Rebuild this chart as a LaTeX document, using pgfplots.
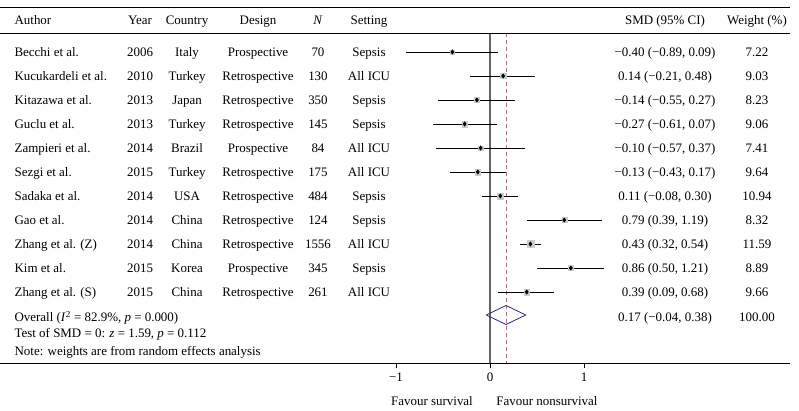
\documentclass[border=0pt]{standalone}
\usepackage{pgfplots}
\pgfplotsset{compat=1.18}
\usepackage{pgfplotstable}
\usepackage{fontspec}
\setmainfont{Liberation Serif}

\definecolor{boxgray}{RGB}{196,206,206}
\definecolor{dashcol}{RGB}{176,112,140}
\definecolor{diacol}{RGB}{40,40,140}
\definecolor{zerocol}{RGB}{100,100,100}

% y = row position (411 - pixel row), ms = box half side (0.3*weight)
\pgfplotstableread{
y   smd   lo    hi    w     ms
359 -0.40 -0.89 0.09  7.22  2.17
335  0.14 -0.21 0.48  9.03  2.71
311 -0.14 -0.55 0.27  8.23  2.47
287 -0.27 -0.61 0.07  9.06  2.72
263 -0.10 -0.57 0.37  7.41  2.22
239 -0.13 -0.43 0.17  9.64  2.89
215  0.11 -0.08 0.30 10.94  3.28
191  0.79  0.39 1.19  8.32  2.50
167  0.43  0.32 0.54 11.59  3.48
143  0.86  0.50 1.21  8.89  2.67
119  0.39  0.09 0.68  9.66  2.90
}\studies

\begin{document}
\begin{tikzpicture}[font=\fontsize{13}{15}\selectfont]
  \begin{axis}[
    scale only axis,
    width=790bp, height=355bp,
    xmin=-5.2128, xmax=3.1915,
    ymin=48, ymax=403,
    axis x line*=bottom,
    axis y line=none,
    x axis line style={line width=0.8pt, -},
    xtick={-1,0,1},
    xticklabels={−1,0,1},
    tick align=outside,
    major tick length=5bp,
    tick style={black, line width=0.6pt},
    xticklabel style={font=\fontsize{13}{15}\selectfont, yshift=-1bp},
    clip=false,
    ]

    % reference lines
    \addplot[zerocol, line width=1.1pt] coordinates {(0,378) (0,48)};
    \addplot[dashcol, line width=0.9pt, dash pattern=on 4pt off 3pt] coordinates {(0.17,378) (0.17,48)};

    % confidence intervals
    \addplot[only marks, mark=none,
      error bars/.cd, x dir=both, x explicit,
      error mark=none, error bar style={black, line width=0.8pt}]
      table[x=smd, y=y,
        x error plus expr=\thisrow{hi}-\thisrow{smd},
        x error minus expr=\thisrow{smd}-\thisrow{lo}] {\studies};

    % weight boxes
    \addplot[scatter, only marks, mark=square*,
      scatter/use mapped color={draw=boxgray, fill=boxgray},
      visualization depends on={\thisrow{ms} \as \msize},
      scatter/@pre marker code/.append style={/tikz/mark size=\msize}]
      table[x=smd, y=y] {\studies};

    % point estimates
    \addplot[only marks, mark=diamond*, mark size=2.2, black]
      table[x=smd, y=y] {\studies};

    % overall estimate
    \addplot[diacol, line width=0.8pt] coordinates
      {(-0.04,96) (0.17,105.5) (0.38,96) (0.17,86.5) (-0.04,96)};

    % rules
    \draw[line width=1pt] (axis cs:-5.2128,403) -- (axis cs:3.1915,403);
    \draw[line width=0.8pt] (axis cs:-5.2128,378) -- (axis cs:3.1915,378);

    % header
    \node[anchor=base west] at (axis cs:-5.095,386) {Author};
    \node[anchor=base] at (axis cs:-3.723,386) {Year};
    \node[anchor=base] at (axis cs:-3.223,386) {Country};
    \node[anchor=base] at (axis cs:-2.468,386) {Design};
    \node[anchor=base] at (axis cs:-1.830,386) {\textit{N}};
    \node[anchor=base] at (axis cs:-1.287,386) {Setting};
    \node[anchor=base] at (axis cs:1.862,386) {SMD (95\% CI)};
    \node[anchor=base] at (axis cs:2.840,386) {Weight (\%)};

    % study rows
    \foreach \yy/\au/\yr/\co/\de/\nn/\se/\ci/\wt in {
      354/Becchi et al./2006/Italy/Prospective/70/Sepsis/{−0.40 (−0.89, 0.09)}/7.22,
      330/Kucukardeli et al./2010/Turkey/Retrospective/130/All ICU/{0.14 (−0.21, 0.48)}/9.03,
      306/Kitazawa et al./2013/Japan/Retrospective/350/Sepsis/{−0.14 (−0.55, 0.27)}/8.23,
      282/Guclu et al./2013/Turkey/Retrospective/145/Sepsis/{−0.27 (−0.61, 0.07)}/9.06,
      258/Zampieri et al./2014/Brazil/Prospective/84/All ICU/{−0.10 (−0.57, 0.37)}/7.41,
      234/Sezgi et al./2015/Turkey/Retrospective/175/All ICU/{−0.13 (−0.43, 0.17)}/9.64,
      210/Sadaka et al./2014/USA/Retrospective/484/Sepsis/{0.11 (−0.08, 0.30)}/10.94,
      186/Gao et al./2014/China/Retrospective/124/Sepsis/{0.79 (0.39, 1.19)}/8.32,
      162/Zhang et al. (Z)/2014/China/Retrospective/1556/All ICU/{0.43 (0.32, 0.54)}/11.59,
      138/Kim et al./2015/Korea/Prospective/345/Sepsis/{0.86 (0.50, 1.21)}/8.89,
      114/Zhang et al. (S)/2015/China/Retrospective/261/All ICU/{0.39 (0.09, 0.68)}/9.66} {
      \edef\rowcmd{%
        \noexpand\node[anchor=base west] at (axis cs:-5.095,\yy) {\au};
        \noexpand\node[anchor=base] at (axis cs:-3.723,\yy) {\yr};
        \noexpand\node[anchor=base] at (axis cs:-3.223,\yy) {\co};
        \noexpand\node[anchor=base] at (axis cs:-2.468,\yy) {\de};
        \noexpand\node[anchor=base] at (axis cs:-1.830,\yy) {\nn};
        \noexpand\node[anchor=base] at (axis cs:-1.287,\yy) {\se};
        \noexpand\node[anchor=base] at (axis cs:1.862,\yy) {\ci};
        \noexpand\node[anchor=base] at (axis cs:2.840,\yy) {\wt};
      }\rowcmd
    }

    % overall rows
    \node[anchor=base west] at (axis cs:-5.095,89) {Overall (\textit{I}\textsuperscript{2} = 82.9\%, \textit{p} = 0.000)};
    \node[anchor=base] at (axis cs:1.862,89) {0.17 (−0.04, 0.38)};
    \node[anchor=base] at (axis cs:2.840,89) {100.00};
    \node[anchor=base west] at (axis cs:-5.095,74) {Test of SMD = 0: \textit{z} = 1.59, \textit{p} = 0.112};
    \node[anchor=base west] at (axis cs:-5.095,56) {Note: weights are from random effects analysis};

    % favour labels
    \node[anchor=base] at (axis cs:-0.617,6) {Favour survival};
    \node[anchor=base] at (axis cs:0.606,6) {Favour nonsurvival};

    \coordinate (BL) at (axis cs:-5.2128,0);
    \coordinate (TR) at (axis cs:3.2872,411);
  \end{axis}
  \pgfresetboundingbox
  \useasboundingbox (BL) rectangle (TR);
\end{tikzpicture}
\end{document}
